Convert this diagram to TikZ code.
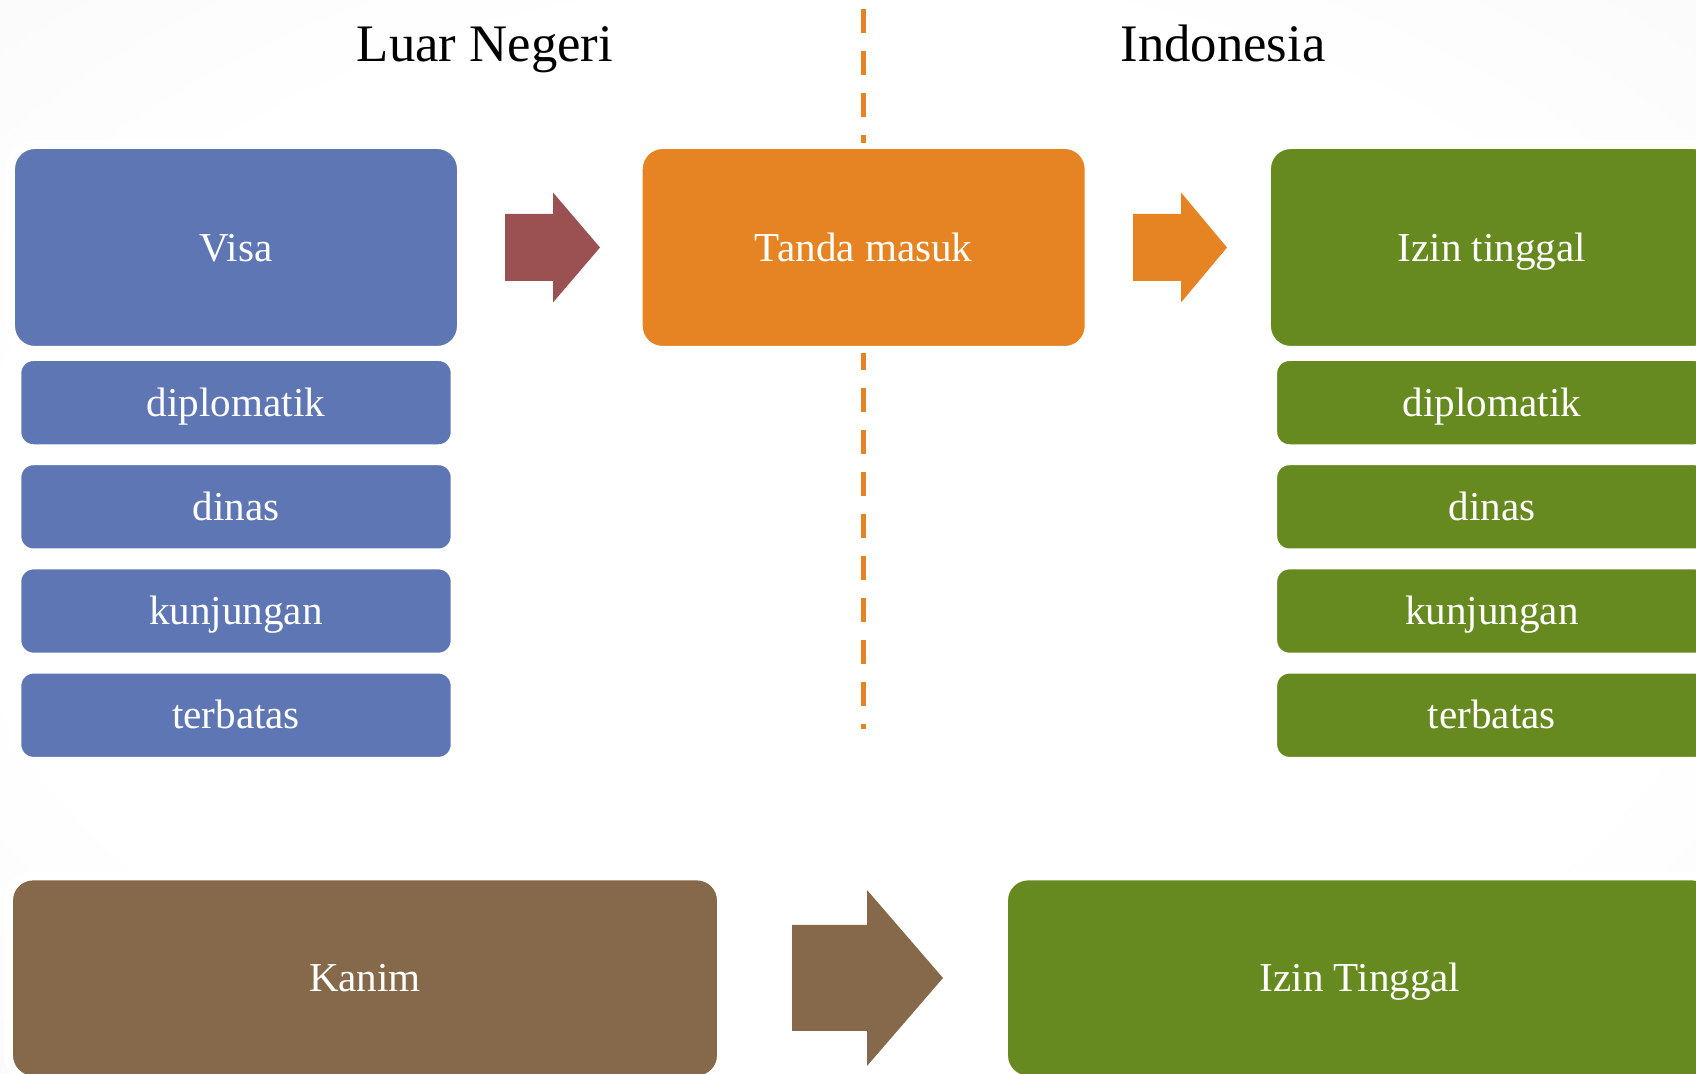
\documentclass[tikz,border=0pt]{standalone}
\usepackage{fontspec}
\setmainfont{Liberation Serif}
\usepackage{tikz}
\usetikzlibrary{positioning,calc}

\definecolor{visablue}{HTML}{5F76B5}
\definecolor{masukorange}{HTML}{E68423}
\definecolor{izingreen}{HTML}{678A20}
\definecolor{kanimbrown}{HTML}{85694A}
\definecolor{arrowred}{HTML}{9B5152}
\pgfdeclareradialshading{vignette}{\pgfpoint{0bp}{0bp}}{color(0bp)=(white); color(25bp)=(white); color(50bp)=(black!4); color(71bp)=(black!6)}

\begin{document}
\begin{tikzpicture}[
  every node/.style={font=\fontsize{11.7}{14}\selectfont},
  box/.style={
    draw=white, line width=2.5pt, rounded corners=6.9pt, align=center,
    text=white, inner sep=0pt, outer sep=0pt, text height=7.7pt, text depth=0pt,
    minimum width=45.08mm, minimum height=20.58mm,
  },
  subbox/.style={box, rounded corners=4.7pt, minimum width=43.82mm, minimum height=9.21mm},
  widebox/.style={box, minimum width=71.28mm, minimum height=20.4mm},
  title/.style={font=\fontsize{15}{18}\selectfont, anchor=base},
  border/.style={masukorange, line width=1.5pt, dash pattern=on 2.4mm off 1.8mm},
]

\clip (0,0) rectangle (16.96,10.74);
\shade[shading=vignette] (0,0) rectangle (16.96,10.74);

\node[title] (luar) at (4.85,10.12) {Luar Negeri};
\node[title] (indo) at (12.23,10.12) {Indonesia};

% Luar Negeri
\node[box, fill=visablue] (visa) at (2.36,8.265) {Visa};
\node[subbox, fill=visablue, below=0.62mm of visa] (vdip) {diplomatik};
\node[subbox, fill=visablue, below=1.21mm of vdip] (vdin) {dinas};
\node[subbox, fill=visablue, below=1.21mm of vdin] (vkun) {kunjungan};
\node[subbox, fill=visablue, below=1.21mm of vkun] (vter) {terbatas};

% batas
\node[box, fill=masukorange, right=17.69mm of visa] (masuk) {Tanda masuk};

% Indonesia
\node[box, fill=izingreen, right=17.74mm of masuk] (izin) {Izin tinggal};
\node[subbox, fill=izingreen, below=0.62mm of izin] (idip) {diplomatik};
\node[subbox, fill=izingreen, below=1.21mm of idip] (idin) {dinas};
\node[subbox, fill=izingreen, below=1.21mm of idin] (ikun) {kunjungan};
\node[subbox, fill=izingreen, below=1.21mm of ikun] (iter) {terbatas};

\node[widebox, fill=kanimbrown] (kanim) at (3.65,0.96) {Kanim};
\node[widebox, fill=izingreen, right=28.22mm of kanim] (izinT) {Izin Tinggal};

\coordinate (dtop) at (masuk.center |- 0,10.65);
\coordinate (dmid) at (masuk.center |- 0,9.31);
\coordinate (dlow) at (masuk.center |- 0,7.213);
\coordinate (dbot) at (masuk.center |- 0,3.45);
\draw[border] (dtop) -- (dmid);
\draw[border, dash phase=0.7mm] (dlow) -- (dbot);

\fill[arrowred] ($(visa.east)+(0.436,0.335)$) -- ++(0.48,0) -- ++(0,0.215)
  -- ++(0.47,-0.55) -- ++(-0.47,-0.55) -- ++(0,0.215) -- ++(-0.48,0) -- cycle;
\fill[masukorange] ($(masuk.east)+(0.439,0.335)$) -- ++(0.48,0) -- ++(0,0.215)
  -- ++(0.46,-0.55) -- ++(-0.46,-0.55) -- ++(0,0.215) -- ++(-0.48,0) -- cycle;
\fill[kanimbrown] ($(kanim.east)+(0.706,0.53)$) -- ++(0.75,0) -- ++(0,0.35)
  -- ++(0.76,-0.88) -- ++(-0.76,-0.88) -- ++(0,0.35) -- ++(-0.75,0) -- cycle;

\end{tikzpicture}
\end{document}
